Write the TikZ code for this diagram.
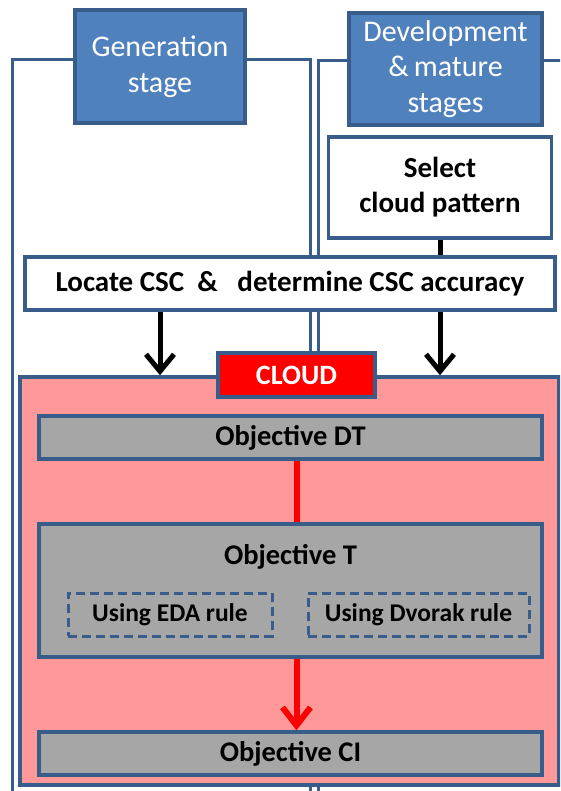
\documentclass[tikz,border=0pt]{standalone}
\usepackage{fontspec}
\setmainfont{Carlito}
\usetikzlibrary{arrows.meta,calc}
\definecolor{bordblue}{RGB}{56,93,138}
\definecolor{fillblue}{RGB}{79,129,189}
\definecolor{pinkfill}{RGB}{255,153,153}
\definecolor{grayfill}{RGB}{166,166,166}
\definecolor{redc}{RGB}{255,0,0}
\begin{document}
\begin{tikzpicture}[x=1pt,y=-1pt,
  box/.style={draw=bordblue, line width=3.5pt, rectangle, inner sep=0pt, align=center},
  stagebox/.style={box, fill=fillblue, text=white, font=\fontsize{30}{35.5}\selectfont},
  whitebox/.style={box, fill=white, font=\bfseries\fontsize{29}{35}\selectfont},
  objbox/.style={box, fill=grayfill, font=\bfseries\fontsize{28.5}{34}\selectfont},
  rulebox/.style={box, line width=3pt, dash pattern=on 9pt off 5pt, font=\bfseries\fontsize{25.5}{30}\selectfont},
  panel/.style={draw=bordblue, line width=3pt},
  blackarrow/.style={line width=5pt, -{Straight Barb[length=17pt,width=28pt]}},
  redline/.style={draw=redc, line width=6pt},
  redarrow/.style={redline, -{Straight Barb[length=18pt,width=28pt]}}
]
\useasboundingbox (0,0) rectangle (560,791);
\clip (0,0) rectangle (560,791);
\fill[white] (0,0) rectangle (560,791);
% stage panels
\draw[panel] (12.5,60) rectangle (310,820);
\draw[panel] (318,61) rectangle (580,820);
% header boxes
\node[stagebox, minimum width=170pt, minimum height=113pt] (gen) at (160,66.5) {Generation\\stage};
\node[stagebox, minimum width=193pt, minimum height=112pt] (dev) at (445.5,69) {Development\\\&\,mature\\stages};
% select / locate
\node[whitebox, minimum width=223pt, minimum height=101pt] (select) at (440,187.5) {Select\\cloud pattern};
\draw[line width=5pt] (select.south) -- (select.south |- 0,257);
\node[whitebox, minimum width=530pt, minimum height=53pt] (locate) at (290,283.5) {Locate CSC\ \ \&\ \ \ determine CSC accuracy};
% cloud container
\node[box, fill=pinkfill, minimum width=539pt, minimum height=408pt] (pink) at (289.5,581) {};
\node[box, fill=redc, text=white, font=\bfseries\fontsize{28}{32}\selectfont, minimum width=157pt, minimum height=44pt] (cloud) at (296.5,375) {CLOUD};
\draw[blackarrow] (locate.south -| gen.south) -- (pink.north -| gen.south);
\draw[blackarrow] (locate.south -| select.south) -- (pink.north -| select.south);
% objectives
\node[objbox, minimum width=503pt, minimum height=43pt] (dt) at (290.5,437.5) {Objective DT};
\node[objbox, minimum width=503pt, minimum height=133pt] (T) at (290.5,590.5) {};
\node[font=\bfseries\fontsize{28.5}{34}\selectfont, inner sep=0pt] (Ttext) at (290.5,557) {Objective T};
\node[rulebox, minimum width=204pt, minimum height=43pt] (eda) at (170,614.5) {Using EDA rule};
\node[rulebox, minimum width=221pt, minimum height=43pt] (dvorak) at (418.5,614.5) {Using Dvorak rule};
\node[objbox, minimum width=503pt, minimum height=43pt] (ci) at (290.5,753.5) {Objective CI};
\draw[redline] (dt.south -| cloud.south) -- (T.north -| cloud.south);
\draw[redarrow] (T.south -| cloud.south) -- (ci.north -| cloud.south);
\end{tikzpicture}
\end{document}
